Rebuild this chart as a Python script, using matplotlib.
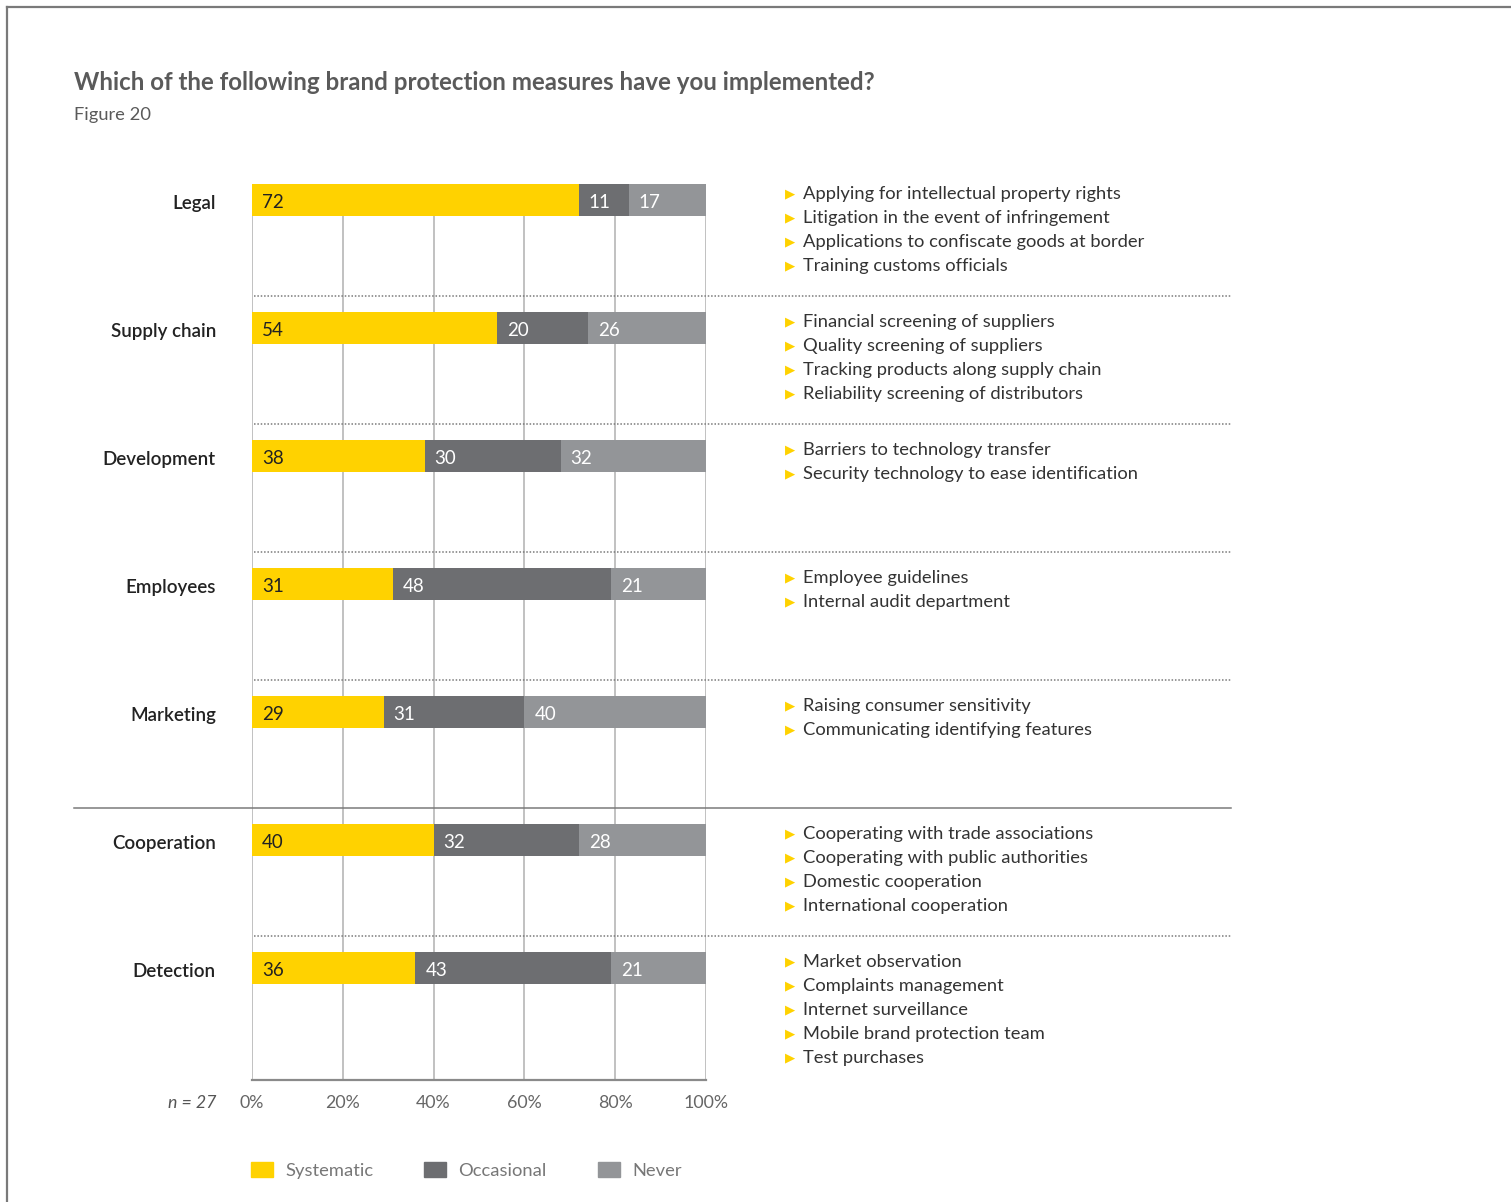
import matplotlib
matplotlib.use("Agg")
import matplotlib.pyplot as plt
from matplotlib.lines import Line2D
from matplotlib.patches import Rectangle
import matplotlib.transforms as mtransforms

plt.rcParams['font.family'] = ['Lato', 'DejaVu Sans']

categories = ['Legal', 'Supply chain', 'Development', 'Employees',
              'Marketing', 'Cooperation', 'Detection']
systematic = [72, 54, 38, 31, 29, 40, 36]
occasional = [11, 20, 30, 48, 31, 32, 43]
never = [17, 26, 32, 21, 40, 28, 21]
series_names = ['Systematic', 'Occasional', 'Never']
series_colors = ['#FFD200', '#6D6E71', '#939598']
label_colors = ['#222222', '#FFFFFF', '#FFFFFF']
xticks = [0, 20, 40, 60, 80, 100]
xtick_labels = ['0%', '20%', '40%', '60%', '80%', '100%']
measures = [
    ['Applying for intellectual property rights',
     'Litigation in the event of infringement',
     'Applications to confiscate goods at border',
     'Training customs officials'],
    ['Financial screening of suppliers',
     'Quality screening of suppliers',
     'Tracking products along supply chain',
     'Reliability screening of distributors'],
    ['Barriers to technology transfer',
     'Security technology to ease identification'],
    ['Employee guidelines',
     'Internal audit department'],
    ['Raising consumer sensitivity',
     'Communicating identifying features'],
    ['Cooperating with trade associations',
     'Cooperating with public authorities',
     'Domestic cooperation',
     'International cooperation'],
    ['Market observation',
     'Complaints management',
     'Internet surveillance',
     'Mobile brand protection team',
     'Test purchases'],
]
title = 'Which of the following brand protection measures have you implemented?'
subtitle = 'Figure 20'
n_label = 'n = 27'

W, H = 1511, 1202
fig = plt.figure(figsize=(W / 100, H / 100), dpi=100)

def fx(px):
    return px / W

def fy(py):
    return 1 - py / H

ax_left, ax_right, ax_top, ax_bottom = 252, 706, 184, 1080
ax = fig.add_axes([fx(ax_left), fy(ax_bottom), fx(ax_right - ax_left),
                   (ax_bottom - ax_top) / H])
row_px = 128.0
ax.set_xlim(0, 100)
ax.set_ylim(len(categories) - 1 + 112 / row_px, -16 / row_px)

ypos = list(range(len(categories)))
bar_h = 32 / row_px
dy = 2 / row_px  # small downward nudge for text centring
lefts = [0] * len(categories)
for vals, name, col, lcol in zip([systematic, occasional, never],
                                 series_names, series_colors, label_colors):
    ax.barh(ypos, vals, left=lefts, height=bar_h, color=col,
            edgecolor='none', label=name, zorder=3)
    for y, v, l in zip(ypos, vals, lefts):
        ax.text(l + 2.2, y + dy, str(v), ha='left', va='center', color=lcol,
                fontsize=13.5, zorder=4)
    lefts = [a + b for a, b in zip(lefts, vals)]

# grid
for x in xticks:
    ax.axvline(x, color='#B0B0B0', lw=1.1, zorder=1)
for s in ['top', 'right', 'left']:
    ax.spines[s].set_visible(False)
ax.spines['bottom'].set_color('#8A8A8A')
ax.spines['bottom'].set_linewidth(1.6)

ax.set_xticks(xticks)
ax.set_xticklabels(xtick_labels)
ax.tick_params(axis='x', length=0, pad=11, labelsize=12.8, labelcolor='#666666')
ax.set_yticks([y + dy for y in ypos])
ax.set_yticklabels(categories)
ax.tick_params(axis='y', length=0, pad=26, labelsize=13.5, labelcolor='#222222')
for t in ax.get_yticklabels():
    t.set_fontweight('semibold')

# separators
trans = mtransforms.blended_transform_factory(fig.transFigure, ax.transData)
for i in range(len(categories) - 1):
    y = i + 96 / row_px
    if i == 4:
        ax.add_line(Line2D([fx(74), fx(1231)], [y, y], transform=trans,
                           color='#7A7A7A', lw=1.1, clip_on=False, zorder=2))
    else:
        ax.add_line(Line2D([fx(254), fx(1232)], [y, y], transform=trans,
                           color='#7A7A7A', lw=1.1, ls=(0, (1, 1.2)),
                           clip_on=False, zorder=2))

# measure bullets
for i, items in enumerate(measures):
    for k, item in enumerate(items):
        y = i + (-8 + 24 * k) / row_px
        ax.text(fx(785), y + dy, '\u25B6', transform=trans, ha='left',
                va='center', fontsize=9.5, color='#FFD200',
                family='DejaVu Sans')
        ax.text(fx(803), y + dy, item, transform=trans, ha='left',
                va='center', fontsize=13.2, color='#333333', clip_on=False)

# title
fig.text(fx(74), fy(82), title, ha='left', va='center', fontsize=17.4,
         fontweight='bold', color='#5A5A5A')
fig.text(fx(74), fy(115), subtitle, ha='left', va='center', fontsize=13.2,
         color='#5A5A5A')
fig.text(fx(216), fy(1103), n_label, ha='right', va='center', fontsize=12.8,
         style='italic', color='#555555')

# legend
leg_x = [251, 424, 598]
for x0, name, col in zip(leg_x, series_names, series_colors):
    fig.patches.append(Rectangle((fx(x0), fy(1177)), fx(22), 15 / H,
                                 transform=fig.transFigure, color=col))
    fig.text(fx(x0 + 34), fy(1171), name, ha='left', va='center',
             fontsize=13.2, color='#777777')

# frame
fig.add_artist(Line2D([fx(7), 1], [fy(7), fy(7)], transform=fig.transFigure,
                      color='#7A7A7A', lw=1.6))
fig.add_artist(Line2D([fx(7), fx(7)], [fy(7), 0], transform=fig.transFigure,
                      color='#7A7A7A', lw=1.6))

fig.savefig('out.png', dpi=100, facecolor='white')
